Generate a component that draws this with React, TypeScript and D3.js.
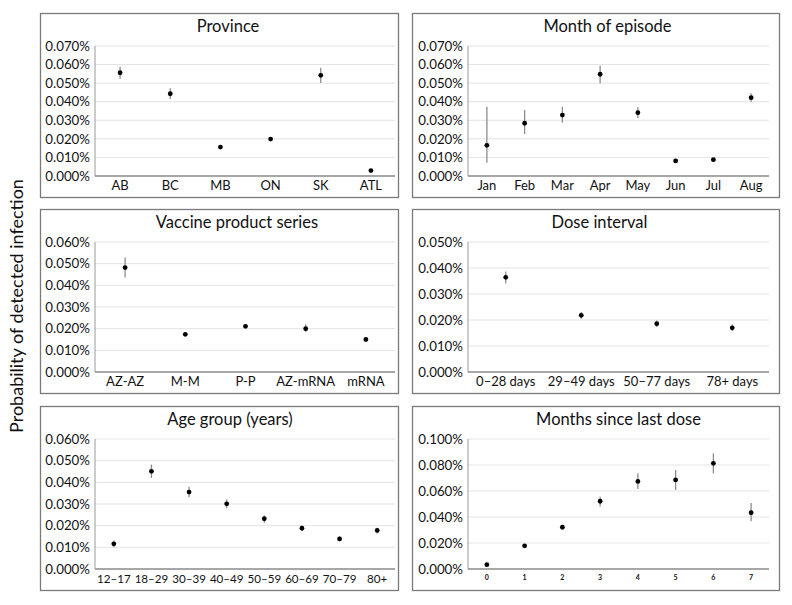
import * as d3 from 'd3'
import * as React from 'react'

// Values are percentages (0.0556 means 0.0556%)
const provinceCats = ['AB', 'BC', 'MB', 'ON', 'SK', 'ATL']
const provinceEst = [0.0556, 0.0443, 0.0156, 0.0199, 0.0542, 0.0029]
const provinceLo = [0.0524, 0.0415, 0.0148, 0.0192, 0.0501, 0.0024]
const provinceHi = [0.0588, 0.0472, 0.0164, 0.0206, 0.0583, 0.0034]

const monthCats = ['Jan', 'Feb', 'Mar', 'Apr', 'May', 'Jun', 'Jul', 'Aug']
const monthEst = [0.0165, 0.0284, 0.0328, 0.0548, 0.0341, 0.0081, 0.0088, 0.0422]
const monthLo = [0.0072, 0.0226, 0.0287, 0.0499, 0.0311, 0.0075, 0.0082, 0.04]
const monthHi = [0.0373, 0.0355, 0.0373, 0.0594, 0.037, 0.0087, 0.0094, 0.0445]

const vaccineCats = ['AZ-AZ', 'M-M', 'P-P', 'AZ-mRNA', 'mRNA']
const vaccineEst = [0.0482, 0.0174, 0.0211, 0.02, 0.015]
const vaccineLo = [0.0436, 0.0165, 0.0204, 0.0185, 0.0144]
const vaccineHi = [0.0528, 0.0183, 0.0218, 0.022, 0.0156]

const intervalCats = ['0–28 days', '29–49 days', '50–77 days', '78+ days']
const intervalEst = [0.0364, 0.0218, 0.0186, 0.017]
const intervalLo = [0.034, 0.0205, 0.0173, 0.0158]
const intervalHi = [0.0387, 0.0231, 0.0198, 0.0183]

const ageCats = ['12–17', '18–29', '30–39', '40–49', '50–59', '60–69', '70–79', '80+']
const ageEst = [0.0116, 0.0451, 0.0355, 0.0301, 0.0232, 0.0188, 0.0139, 0.0178]
const ageLo = [0.01, 0.042, 0.0331, 0.028, 0.0213, 0.0175, 0.0128, 0.0164]
const ageHi = [0.0131, 0.0482, 0.038, 0.0321, 0.0247, 0.0201, 0.0151, 0.019]

const sinceCats = ['0', '1', '2', '3', '4', '5', '6', '7']
const sinceEst = [0.0033, 0.0178, 0.0321, 0.0521, 0.0674, 0.0685, 0.0813, 0.0433]
const sinceLo = [0.0029, 0.0172, 0.031, 0.048, 0.0615, 0.0608, 0.0736, 0.0367]
const sinceHi = [0.0037, 0.0184, 0.0332, 0.0556, 0.0736, 0.0762, 0.089, 0.0508]

const titles = ['Province', 'Month of episode', 'Vaccine product series', 'Dose interval', 'Age group (years)', 'Months since last dose']
const yMaxes = [0.07, 0.07, 0.06, 0.05, 0.06, 0.1]
const ySteps = [0.01, 0.01, 0.01, 0.01, 0.01, 0.02]

type Panel = {
  title: string
  cats: string[]
  est: number[]
  lo: number[]
  hi: number[]
  yMax: number
  yStep: number
}

const panels: Panel[] = [
  [provinceCats, provinceEst, provinceLo, provinceHi],
  [monthCats, monthEst, monthLo, monthHi],
  [vaccineCats, vaccineEst, vaccineLo, vaccineHi],
  [intervalCats, intervalEst, intervalLo, intervalHi],
  [ageCats, ageEst, ageLo, ageHi],
  [sinceCats, sinceEst, sinceLo, sinceHi],
].map((s, i) => ({
  title: titles[i],
  cats: s[0] as string[],
  est: s[1] as number[],
  lo: s[2] as number[],
  hi: s[3] as number[],
  yMax: yMaxes[i],
  yStep: ySteps[i],
}))

// layout
const W = 792
const H = 605
const colX = [40, 412]
const colW = [358, 367]
const plotX = [[95, 396], [468, 770]]
const rowY = [13, 209, 406]
const panelH = 184
const titleDx = [9, 12, 18, 4, 11, 23]
const labelSize = [13, 13, 13, 13, 11.6, 7]
const font = 'Lato, "Noto Sans", sans-serif'
const fmt = d3.format('.3f')

function PanelChart({ p, i }: { p: Panel; i: number }) {
  const col = i % 2
  const row = Math.floor(i / 2)
  const x0 = colX[col]
  const y0 = rowY[row]
  const [px0, px1] = plotX[col]
  const yTop = y0 + 33
  const yBot = y0 + 163

  const x = d3.scaleBand<string>().domain(p.cats).range([px0, px1])
  const y = d3.scaleLinear().domain([0, p.yMax]).range([yBot, yTop])
  const ticks = d3.range(0, p.yMax + p.yStep / 2, p.yStep)
  const cx = (c: string) => x(c)! + x.bandwidth() / 2
  const small = i === 5

  return (
    <g>
      <rect x={x0 + 0.5} y={y0 + 0.5} width={colW[col]} height={panelH} fill="#fff" stroke="#7a7a7a" strokeWidth={1.3} />
      <text x={x0 + colW[col] / 2 + titleDx[i]} y={y0 + 19} textAnchor="middle" fontSize={16.5} fontFamily={font} fill="#111">
        {p.title}
      </text>
      {ticks.map((t) => (
        <g key={t}>
          {t > 0 && <line x1={px0} x2={px1 - 1} y1={y(t)} y2={y(t)} stroke="#e3e3e3" strokeWidth={1} />}
          <text x={px0 - 5} y={y(t)} dy="0.35em" textAnchor="end" fontSize={13.3} fontFamily={font} fill="#111">
            {fmt(t) + '%'}
          </text>
        </g>
      ))}
      <line x1={px0} x2={px0} y1={yTop} y2={yBot} stroke="#9a9a9a" strokeWidth={1} />
      <line x1={px0} x2={px1 - 1} y1={yBot} y2={yBot} stroke="#8a8a8a" strokeWidth={1.5} />
      {p.cats.map((c) => (
        <text
          key={c}
          x={cx(c)}
          y={small ? y0 + 174 : y0 + 177}
          textAnchor="middle"
          fontSize={labelSize[i]}
          fontWeight={small ? 700 : 400}
          fontFamily={font}
          fill="#111"
        >
          {c}
        </text>
      ))}
      {p.cats.map((c, k) => (
        <g key={c}>
          <line x1={cx(c)} x2={cx(c)} y1={y(p.lo[k])} y2={y(p.hi[k])} stroke="#8c8c8c" strokeWidth={1.3} />
          <circle cx={cx(c)} cy={y(p.est[k])} r={2.4} fill="#000" />
        </g>
      ))}
    </g>
  )
}

export default function App() {
  return (
    <svg width={W} height={H} style={{ position: 'absolute', left: 0, top: 0, background: '#fff' }}>
      <rect width={W} height={H} fill="#fff" />
      <text
        transform={`translate(23,${306}) rotate(-90)`}
        textAnchor="middle"
        fontSize={18}
        fontFamily={font}
        fill="#111"
      >
        Probability of detected infection
      </text>
      {panels.map((p, i) => (
        <PanelChart key={p.title} p={p} i={i} />
      ))}
    </svg>
  )
}
